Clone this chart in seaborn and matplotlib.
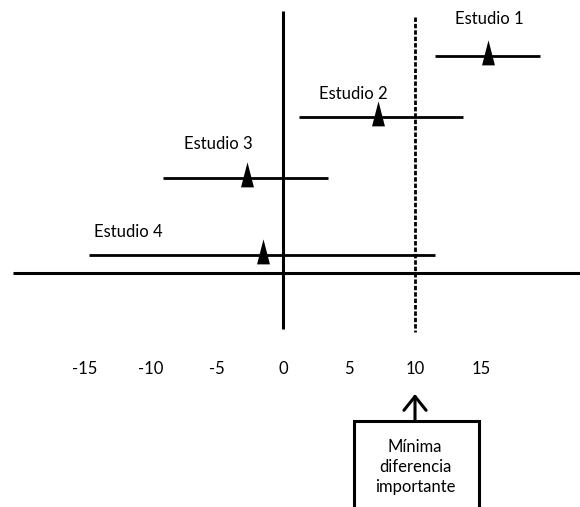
import pandas as pd
import matplotlib
matplotlib.use('Agg')
import matplotlib.pyplot as plt
import seaborn as sns
from matplotlib.patches import Rectangle
from matplotlib.path import Path

# data
studies = ['Estudio 1', 'Estudio 2', 'Estudio 3', 'Estudio 4']
estimates = [15.5, 7.2, -2.7, -1.5]
ci_low = [11.5, 1.2, -9.1, -14.7]
ci_high = [19.5, 13.6, 3.4, 11.5]
tick_values = [-15, -10, -5, 0, 5, 10, 15]
mid_value = 10
mid_label = 'Mínima\ndiferencia\nimportante'

# layout: vertical position of each row (px above the horizontal axis)
row_y = [217, 156, 95, 18]
label_xy = [(15.6, 254), (5.3, 179), (-4.9, 129), (-11.7, 41)]

sns.set_theme(style='white')
plt.rcParams['font.family'] = ['Lato', 'DejaVu Sans']

fig = plt.figure(figsize=(5.8, 5.07), dpi=100)
ax = fig.add_axes([0, 0, 1, 1])
ax.set_xlim(-21.44, 22.5)
ax.set_ylim(-234, 273)
ax.axis('off')

# confidence intervals
ci = pd.DataFrame({
    'study': studies * 2,
    'x': ci_low + ci_high,
    'y': row_y * 2,
})
sns.lineplot(data=ci, x='x', y='y', units='study', estimator=None, sort=False,
             color='black', lw=2, solid_capstyle='butt', ax=ax, legend=False)

# point estimates as tall triangles
tri = Path([(0, 1), (-0.4, -0.55), (0.4, -0.55), (0, 1)],
           [Path.MOVETO, Path.LINETO, Path.LINETO, Path.CLOSEPOLY])
pts = pd.DataFrame({'x': estimates, 'y': row_y})
sns.scatterplot(data=pts, x='x', y='y', marker=tri, s=540, color='black',
                linewidth=0, ax=ax, legend=False, zorder=5)

for name, (lx, ly) in zip(studies, label_xy):
    ax.text(lx, ly, name, ha='center', va='center', fontsize=12, color='black')

# axes of the schematic
ax.plot([-20.45, 22.5], [0, 0], color='black', lw=2.2, solid_capstyle='butt')
ax.plot([0, 0], [262, -56], color='black', lw=2.2, solid_capstyle='butt')
ax.plot([mid_value, mid_value], [256, -59], color='black', lw=2,
        linestyle=(0, (1.6, 0.7)))

for t in tick_values:
    ax.text(t, -96, str(t), ha='center', va='center', fontsize=12, color='black')

# note box with arrow
ax.add_patch(Rectangle((5.38, -260), 9.47, 260 - 148, fill=False,
                       edgecolor='black', lw=2.2))
ax.annotate('', xy=(mid_value, -121), xytext=(mid_value, -148),
            arrowprops=dict(arrowstyle='->,head_length=0.5,head_width=0.4',
                            mutation_scale=20, lw=2.2, color='black',
                            shrinkA=0, shrinkB=0))
ax.text(mid_value, -194, mid_label, ha='center', va='center', fontsize=12,
        linespacing=1.3, color='black')

fig.savefig('out.png', dpi=100, facecolor='white')
